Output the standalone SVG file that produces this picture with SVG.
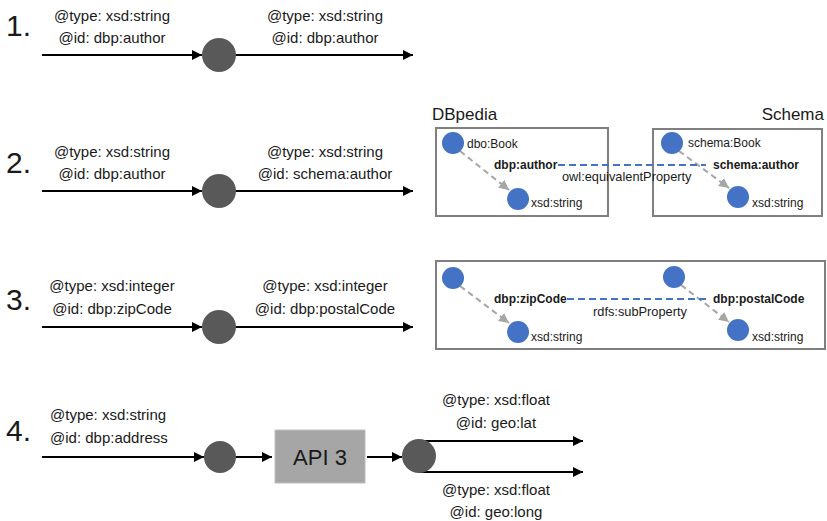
<svg xmlns="http://www.w3.org/2000/svg" width="827" height="521" viewBox="0 0 827 521">
<defs>
<marker id="ah" viewBox="0 0 10 10" refX="10" refY="5" markerWidth="10" markerHeight="10" markerUnits="userSpaceOnUse" orient="auto"><path d="M0,0 L10,5 L0,10 z" fill="#000"/></marker>
<marker id="gh" viewBox="0 0 10 10" refX="10" refY="5" markerWidth="10" markerHeight="10" markerUnits="userSpaceOnUse" orient="auto"><path d="M0,0 L10,5 L0,10 z" fill="#a6a6a6"/></marker>
</defs>
<style>
text{font-family:"Liberation Sans",Arial,sans-serif;fill:#1a1a1a}
.num{font-size:30px}
.lab{font-size:15px;text-anchor:middle}
.labl{font-size:15px}
.sm{font-size:12px}
.rel{font-size:12.8px}
.b{font-weight:bold}
.hd{font-size:17px}
.ln{stroke:#000;stroke-width:2;fill:none;marker-end:url(#ah)}
.gl{stroke:#a6a6a6;stroke-width:2;stroke-dasharray:6,4;fill:none;marker-end:url(#gh)}
.bl{stroke:#4472c4;stroke-width:2;stroke-dasharray:7,4;fill:none}
.dot{fill:#595959}
.bn{fill:#4472c4}
.box{fill:#fff;stroke:#7f7f7f;stroke-width:2}
</style>
<rect width="827" height="521" fill="#fff"/>
<g id="connectors">
<line class="ln" x1="42" y1="55" x2="202" y2="55"/>
<line class="ln" x1="235" y1="55" x2="413" y2="55"/>
<line class="ln" x1="42" y1="191" x2="202" y2="191"/>
<line class="ln" x1="235" y1="191" x2="413" y2="191"/>
<line class="ln" x1="42" y1="327" x2="202" y2="327"/>
<line class="ln" x1="235" y1="327" x2="413" y2="327"/>
<line class="ln" x1="42" y1="457" x2="204" y2="457"/>
<line class="ln" x1="236" y1="457" x2="272" y2="457"/>
<line class="ln" x1="367" y1="457" x2="402" y2="457"/>
<line class="ln" x1="420" y1="441" x2="583" y2="441"/>
<line class="ln" x1="420" y1="472" x2="583" y2="472"/>
</g>
<g id="row1">
<text class="num" x="6" y="36">1.</text>
<text class="lab" x="112" y="21">@type: xsd:string</text>
<text class="lab" x="112" y="43">@id: dbp:author</text>
<text class="lab" x="325" y="21">@type: xsd:string</text>
<text class="lab" x="325" y="43">@id: dbp:author</text>
<circle id="n1" class="dot" cx="219" cy="55" r="17"/>
</g>
<g id="row2">
<text class="num" x="6" y="173">2.</text>
<text class="lab" x="112" y="157">@type: xsd:string</text>
<text class="lab" x="112" y="179">@id: dbp:author</text>
<text class="lab" x="325" y="157">@type: xsd:string</text>
<text class="lab" x="325" y="179">@id: schema:author</text>
<circle id="n2" class="dot" cx="219" cy="191" r="17"/>
</g>
<g id="dbpedia">
<text class="hd" x="432" y="120">DBpedia</text>
<rect class="box" x="436" y="128" width="172" height="88"/>
<line class="gl" x1="460" y1="151" x2="509" y2="190"/>
<circle class="bn" cx="453" cy="143" r="11"/>
<circle class="bn" cx="518" cy="199" r="11"/>
<text class="sm" x="467" y="148">dbo:Book</text>
<text class="sm b" x="494" y="169">dbp:author</text>
<text class="sm" x="531" y="207">xsd:string</text>
</g>
<g id="schema">
<text class="hd" x="824" y="120" text-anchor="end">Schema</text>
<rect class="box" x="653" y="129" width="169" height="87"/>
<line class="gl" x1="679" y1="151" x2="729" y2="188"/>
<circle class="bn" cx="672" cy="143" r="11"/>
<circle class="bn" cx="738" cy="197" r="11"/>
<text class="sm" x="688" y="147">schema:Book</text>
<text class="sm b" x="713" y="169">schema:author</text>
<text class="sm" x="752" y="207">xsd:string</text>
</g>
<g id="equiv">
<line class="bl" x1="558" y1="165" x2="706" y2="165"/>
<text class="rel" x="562" y="181">owl:equivalentProperty</text>
</g>
<g id="row3">
<text class="num" x="6" y="310">3.</text>
<text class="lab" x="112" y="291">@type: xsd:integer</text>
<text class="lab" x="112" y="314">@id: dbp:zipCode</text>
<text class="lab" x="325" y="291">@type: xsd:integer</text>
<text class="lab" x="325" y="314">@id: dbp:postalCode</text>
<circle id="n3" class="dot" cx="219" cy="327" r="17"/>
</g>
<g id="subprop">
<rect class="box" x="436" y="261" width="389" height="88"/>
<line class="gl" x1="460" y1="286" x2="509" y2="323"/>
<line class="gl" x1="681" y1="285" x2="729" y2="322"/>
<circle class="bn" cx="453" cy="278" r="11"/>
<circle class="bn" cx="518" cy="332" r="11"/>
<circle class="bn" cx="674" cy="277" r="11"/>
<circle class="bn" cx="738" cy="330" r="11"/>
<text class="sm b" x="494" y="303">dbp:zipCode</text>
<text class="sm b" x="713" y="303">dbp:postalCode</text>
<text class="sm" x="531" y="341">xsd:string</text>
<text class="sm" x="752" y="341">xsd:string</text>
<line class="bl" x1="567" y1="299" x2="707" y2="299"/>
<text class="rel" x="593" y="316">rdfs:subProperty</text>
</g>
<g id="row4">
<text class="num" x="6" y="441">4.</text>
<text class="labl" x="50" y="420">@type: xsd:string</text>
<text class="labl" x="50" y="443">@id: dbp:address</text>
<circle id="n4a" class="dot" cx="220" cy="457" r="16"/>
<circle id="n4b" class="dot" cx="419" cy="456" r="17"/>
<text class="lab" x="496" y="405">@type: xsd:float</text>
<text class="lab" x="496" y="428">@id: geo:lat</text>
<text class="lab" x="496" y="495">@type: xsd:float</text>
<text class="lab" x="496" y="517">@id: geo:long</text>
</g>
<g id="api3">
<rect x="275" y="430" width="90" height="53" fill="#a6a6a6" stroke="#bfbfbf" stroke-width="1"/>
<text x="320" y="465" font-size="22" text-anchor="middle">API 3</text>
</g>
</svg>
